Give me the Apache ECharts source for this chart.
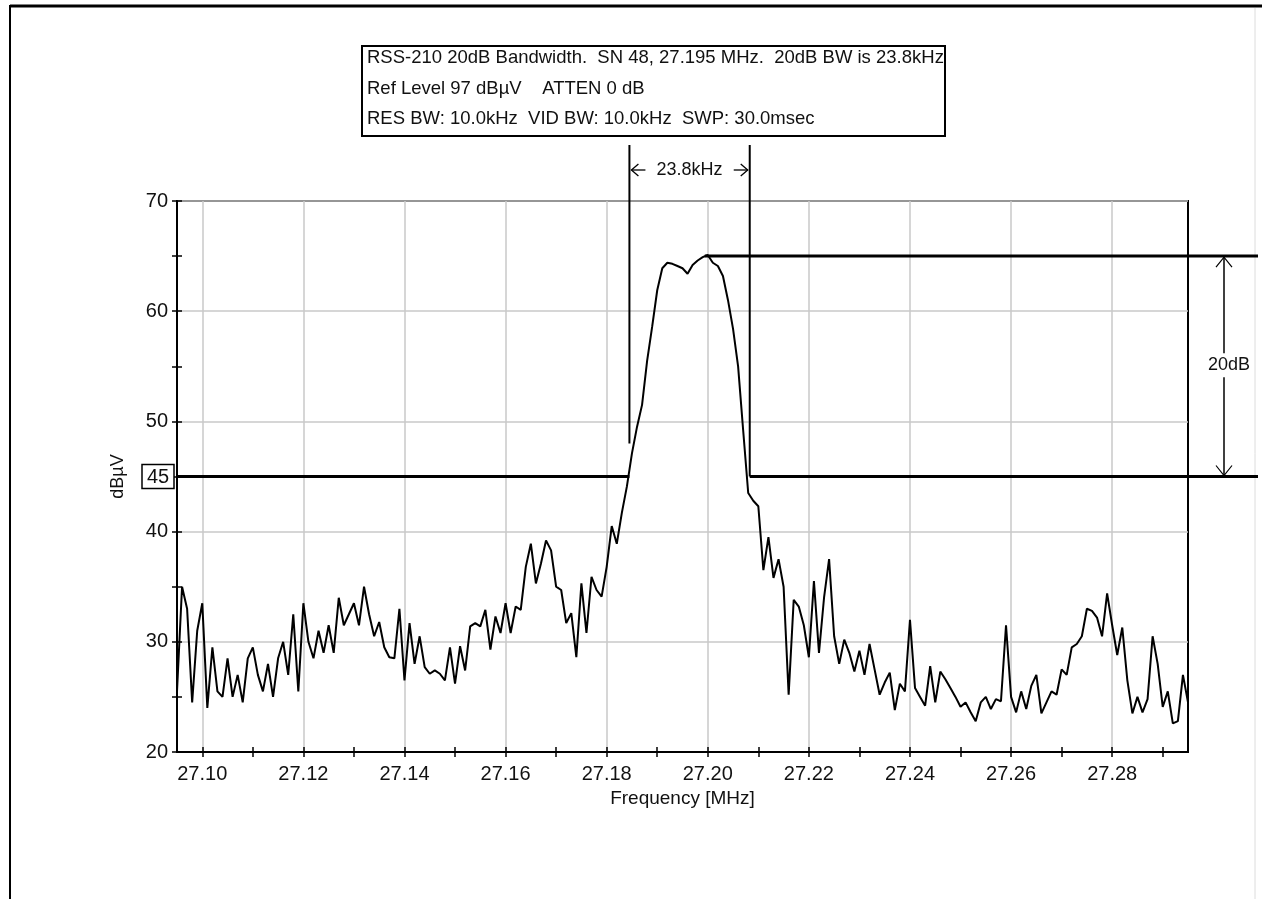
<!DOCTYPE html>
<html><head><meta charset="utf-8">
<script src="https://cdn.jsdelivr.net/npm/echarts@6/dist/echarts.min.js"></script>
<style>html,body{margin:0;padding:0;background:#fff}#c{width:1262px;height:899px}</style>
</head><body><div id="c"></div>
<script>
// ---- data ----
const sweepStart = 27.095;   // MHz
const sweepStop = 27.295;    // MHz
const sweepStep = 0.001;     // MHz between trace samples
const levels = [
 25.5,35.0,33.0,24.5,31.0,33.5,24.0,29.5,25.5,25.0,
 28.5,25.0,27.0,24.5,28.5,29.5,27.0,25.5,28.0,25.0,
 28.5,30.0,27.0,32.5,25.5,33.5,30.0,28.5,31.0,29.0,
 31.5,29.0,34.0,31.5,32.5,33.5,31.5,35.0,32.5,30.5,
 31.8,29.5,28.6,28.5,33.0,26.5,31.7,28.0,30.5,27.7,
 27.1,27.4,27.1,26.5,29.5,26.2,29.6,27.4,31.4,31.7,
 31.4,32.9,29.3,32.3,30.8,33.5,30.8,33.2,32.9,36.8,
 38.9,35.3,37.1,39.2,38.3,35.0,34.7,31.7,32.6,28.6,
 35.3,30.8,35.9,34.7,34.1,36.8,40.5,38.9,41.7,44.1,
 47.1,49.5,51.5,55.5,58.6,61.9,63.9,64.4,64.3,64.1,
 63.9,63.4,64.2,64.6,64.9,65.1,64.4,64.1,63.2,61.0,
 58.4,55.0,49.2,43.5,42.8,42.3,36.5,39.5,35.8,37.5,
 35.0,25.2,33.8,33.2,31.5,28.6,35.5,29.0,34.0,37.5,
 30.5,28.0,30.2,29.0,27.3,29.2,27.0,29.8,27.5,25.2,
 26.3,27.2,23.8,26.2,25.5,32.0,25.8,25.0,24.2,27.8,
 24.5,27.3,26.6,25.8,25.0,24.1,24.5,23.6,22.8,24.5,
 25.0,23.9,24.8,24.6,31.5,25.0,23.6,25.5,23.9,26.0,
 27.0,23.5,24.5,25.5,25.2,27.5,27.0,29.5,29.8,30.5,
 33.0,32.8,32.2,30.5,34.4,31.5,28.8,31.3,26.5,23.5,
 25.0,23.6,24.8,30.5,28.0,24.1,25.5,22.6,22.8,27.0,
 24.5
];
const xLabelValues = [27.10,27.12,27.14,27.16,27.18,27.20,27.22,27.24,27.26,27.28];
const xTickValues = [27.10,27.11,27.12,27.13,27.14,27.15,27.16,27.17,27.18,27.19,27.20,27.21,27.22,27.23,27.24,27.25,27.26,27.27,27.28,27.29];
const yMin = 20, yMax = 70, yStep = 10;
const bwEdges = [27.1845, 27.2083];   // 20 dB bandwidth edges (MHz)
const bwLevel = 45;                   // dBµV
const peakLevel = 65;                 // dBµV
const peakFreq = 27.1994;             // MHz
const leftMarkerBottom = 48;          // dBµV
const bwText = '23.8kHz';
const dropText = '20dB';
const levelBoxText = '45';
const infoLines = [
  'RSS-210 20dB Bandwidth.  SN 48, 27.195 MHz.  20dB BW is 23.8kHz',
  'Ref Level 97 dB\u00b5V    ATTEN 0 dB',
  'RES BW: 10.0kHz  VID BW: 10.0kHz  SWP: 30.0msec'
];
const xTitle = 'Frequency [MHz]';
const yTitle = 'dB\u00b5V';

// ---- chart ----
const FF = '"Liberation Sans", Arial, sans-serif';
const traceData = levels.map((v, i) => [+(sweepStart + i * sweepStep).toFixed(4), v]);
const chart = echarts.init(document.getElementById('c'), null, {renderer: 'canvas'});
const tickStyle = {color: '#000', width: 1.5};
const auxX = inside => ({
  type: 'value', min: sweepStart, max: sweepStop, position: 'bottom', gridIndex: 0,
  axisLine: {show: false}, axisLabel: {show: false}, splitLine: {show: false},
  axisTick: {show: true, inside: inside, length: 5, customValues: xTickValues, lineStyle: tickStyle}
});
chart.setOption({
  animation: false,
  backgroundColor: '#fff',
  grid: {left: 177, top: 201, right: 74, bottom: 147, show: true, borderColor: '#000', borderWidth: 2, backgroundColor: 'transparent'},
  xAxis: [
    {type: 'value', min: sweepStart, max: sweepStop, position: 'bottom',
     axisLine: {show: true, lineStyle: {color: '#000', width: 2}},
     axisTick: {show: false, customValues: xLabelValues},
     axisLabel: {customValues: xLabelValues, formatter: v => v.toFixed(2), fontSize: 20, color: '#111', margin: 12, fontFamily: FF},
     splitLine: {show: true, lineStyle: {color: '#c8c8c8', width: 1.5}},
     name: xTitle, nameLocation: 'middle', nameGap: 34,
     nameTextStyle: {fontSize: 19, color: '#111', fontFamily: FF}},
    auxX(false), auxX(true)
  ],
  yAxis: [
    {type: 'value', min: yMin, max: yMax, interval: yStep, position: 'left',
     axisLine: {show: true, lineStyle: {color: '#000', width: 2}},
     axisTick: {show: true, length: 5, lineStyle: tickStyle},
     minorTick: {show: true, splitNumber: 2, length: 5, lineStyle: tickStyle},
     axisLabel: {fontSize: 20, color: '#111', margin: 9, fontFamily: FF},
     splitLine: {show: true, lineStyle: {color: '#c8c8c8', width: 1.5}},
     name: yTitle, nameLocation: 'middle', nameGap: 50,
     nameTextStyle: {fontSize: 18, color: '#111', fontFamily: FF}},
    {type: 'value', min: yMin, max: yMax, interval: yStep, position: 'left',
     axisLine: {show: false}, axisLabel: {show: false}, splitLine: {show: false},
     axisTick: {show: true, inside: true, length: 5, lineStyle: tickStyle},
     minorTick: {show: true, splitNumber: 2, length: 5, lineStyle: tickStyle}}
  ],
  series: [{
    type: 'line', xAxisIndex: 0, yAxisIndex: 0, data: traceData,
    showSymbol: false, symbol: 'none', lineStyle: {color: '#000', width: 2}, z: 5
  }]
});

const P = (x, y) => chart.convertToPixel({xAxisIndex: 0, yAxisIndex: 0}, [x, y]);
const W = 1262, H = 899;
const rightEnd = 1258, markerTop = 145;
const [xL] = P(bwEdges[0], bwLevel);
const [xR] = P(bwEdges[1], bwLevel);
const yLev = P(sweepStart, bwLevel)[1];
const yPk = P(sweepStart, peakLevel)[1];
const yLB = P(sweepStart, leftMarkerBottom)[1];
const xPk = P(peakFreq, peakLevel)[0];
const xAxisPx = P(sweepStart, bwLevel)[0];
const line = (x1, y1, x2, y2, w, c) => ({type: 'line', shape: {x1, y1, x2, y2}, style: {stroke: c || '#000', lineWidth: w}, z: 50});
const ax = 1224;
const yBw = 170;
const g = [
  // outer frame
  line(10, 6, W, 6, 3), line(10, 5, 10, H, 2), line(1255, 8, 1255, H, 1, '#dcdcdc'),
  // info box
  {type: 'rect', shape: {x: 362, y: 46, width: 583, height: 90}, style: {fill: '#fff', stroke: '#000', lineWidth: 2}, z: 50},
  ...infoLines.map((t, i) => ({type: 'text', x: 367, y: 58 + i * 30.5, style: {text: t, font: '18.5px ' + FF, fill: '#111', textVerticalAlign: 'middle'}, z: 51})),
  // bandwidth markers
  line(xL, markerTop, xL, yLB, 2), line(xR, markerTop, xR, yLev, 2),
  {type: 'text', x: (xL + xR) / 2, y: yBw, style: {text: bwText, font: '18px ' + FF, fill: '#111', textAlign: 'center', textVerticalAlign: 'middle'}, z: 51},
  // small arrows pointing at the marker lines
  line(xL + 2, yBw, xL + 16, yBw, 1.3),
  {type: 'polyline', shape: {points: [[xL + 9, yBw - 6], [xL + 2, yBw], [xL + 9, yBw + 6]]}, style: {stroke: '#000', lineWidth: 1.3, fill: null}, z: 50},
  line(xR - 16, yBw, xR - 2, yBw, 1.3),
  {type: 'polyline', shape: {points: [[xR - 9, yBw - 6], [xR - 2, yBw], [xR - 9, yBw + 6]]}, style: {stroke: '#000', lineWidth: 1.3, fill: null}, z: 50},
  // level lines
  line(xAxisPx, yLev, xL, yLev, 3), line(xR, yLev, rightEnd, yLev, 3),
  line(xPk, yPk, rightEnd, yPk, 3),
  // 20 dB arrow
  line(ax, yPk, ax, yLev, 1.5),
  {type: 'polyline', shape: {points: [[ax - 8, yPk + 11], [ax, yPk + 1], [ax + 8, yPk + 11]]}, style: {stroke: '#000', lineWidth: 1.2, fill: null}, z: 50},
  {type: 'polyline', shape: {points: [[ax - 8, yLev - 11], [ax, yLev - 1], [ax + 8, yLev - 11]]}, style: {stroke: '#000', lineWidth: 1.2, fill: null}, z: 50},
  {type: 'text', x: 1229, y: (yPk + yLev) / 2 - 1, style: {text: dropText, font: '18px ' + FF, fill: '#111', textAlign: 'center', textVerticalAlign: 'middle', backgroundColor: '#fff', padding: [3, 1]}, z: 52},
  // 45 level box
  {type: 'rect', shape: {x: xAxisPx - 35, y: yLev - 12, width: 32, height: 24}, style: {fill: '#fff', stroke: '#000', lineWidth: 1.5}, z: 50},
  {type: 'text', x: xAxisPx - 19, y: yLev + 1, style: {text: levelBoxText, font: '20px ' + FF, fill: '#111', textAlign: 'center', textVerticalAlign: 'middle'}, z: 51}
];
chart.setOption({graphic: {elements: g}});
</script></body></html>
